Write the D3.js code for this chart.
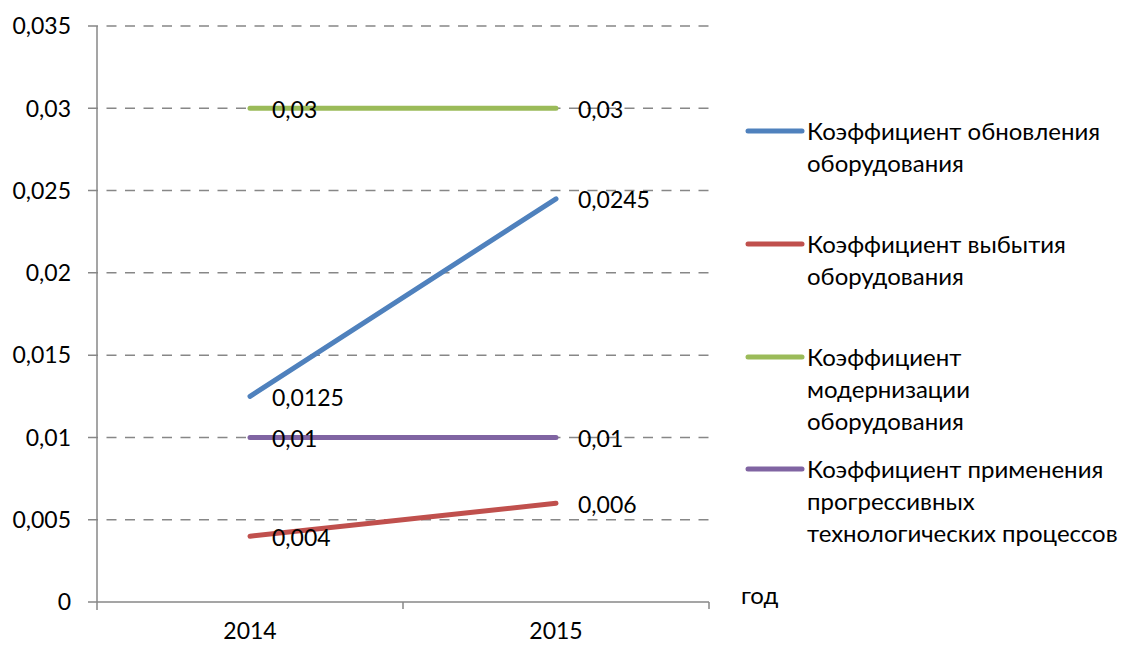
<!DOCTYPE html>
<html>
<head>
<meta charset="utf-8">
<script src="https://cdn.jsdelivr.net/npm/d3@7"></script>
<style>
  html, body { margin: 0; padding: 0; background: #fff; }
  svg { display: block; }
  text { font-family: Lato, "Open Sans", sans-serif; fill: #000; }
</style>
</head>
<body>
<svg id="chart" width="1123" height="645"></svg>
<script>
// Years on the category axis
const years = ["2014", "2015"];

// Series names (legend text, split into lines)
const seriesNames = [
  ["Коэффициент обновления", "оборудования"],
  ["Коэффициент выбытия", "оборудования"],
  ["Коэффициент", "модернизации", "оборудования"],
  ["Коэффициент применения", "прогрессивных", "технологических процессов"]
];

// Values per series, one per year
const renewalValues = [0.0125, 0.0245];
const disposalValues = [0.004, 0.006];
const modernizationValues = [0.03, 0.03];
const progressiveTechValues = [0.01, 0.01];

const seriesColors = ["#4F81BD", "#C0504D", "#9BBB59", "#8064A2"];

// Value axis ticks
const yTicks = [0, 0.005, 0.01, 0.015, 0.02, 0.025, 0.03, 0.035];
const xAxisTitle = "год";

const series = [renewalValues, disposalValues, modernizationValues, progressiveTechValues]
  .map((vals, i) => ({ name: seriesNames[i], color: seriesColors[i], values: vals }));

const svg = d3.select("#chart");
const numSize = 23;
const legendSize = 24;
const gridColor = "#878787";

const plot = { left: 97, right: 709, top: 26, bottom: 602 };

const y = d3.scaleLinear().domain([0, 0.035]).range([plot.bottom, plot.top]);
const xBand = d3.scaleBand().domain(years).range([plot.left, plot.right]);
const xc = d => xBand(d) + xBand.bandwidth() / 2;

const fmt = v => String(v).replace(".", ",");

// Dashed horizontal gridlines (skip the baseline, drawn as the axis)
svg.append("g")
  .selectAll("line")
  .data(yTicks.filter(t => t > 0))
  .join("line")
  .attr("x1", plot.left - 9)
  .attr("x2", plot.right)
  .attr("y1", d => y(d))
  .attr("y2", d => y(d))
  .attr("stroke", gridColor)
  .attr("stroke-width", 1.5)
  .attr("stroke-dasharray", "10,8.5");

// Value axis
const yAxis = svg.append("g");
yAxis.append("line")
  .attr("x1", plot.left).attr("x2", plot.left)
  .attr("y1", plot.top).attr("y2", plot.bottom + 8)
  .attr("stroke", gridColor).attr("stroke-width", 1.5);
yAxis.append("line")
  .attr("x1", plot.left - 9).attr("x2", plot.left)
  .attr("y1", y(0)).attr("y2", y(0))
  .attr("stroke", gridColor).attr("stroke-width", 1.5);
yAxis.selectAll("text")
  .data(yTicks)
  .join("text")
  .attr("x", 71)
  .attr("y", d => y(d))
  .attr("dy", "0.36em")
  .attr("text-anchor", "end")
  .attr("font-size", numSize)
  .text(d => d === 0 ? "0" : fmt(d));

// Category axis
const xAxis = svg.append("g");
xAxis.append("line")
  .attr("x1", plot.left).attr("x2", plot.right)
  .attr("y1", plot.bottom).attr("y2", plot.bottom)
  .attr("stroke", gridColor).attr("stroke-width", 1.5);
const tickPos = years.map(d => xBand(d)).concat([plot.right]);
xAxis.selectAll("line.tick")
  .data(tickPos.slice(1))
  .join("line")
  .attr("class", "tick")
  .attr("x1", d => d).attr("x2", d => d)
  .attr("y1", plot.bottom).attr("y2", plot.bottom + 7)
  .attr("stroke", gridColor).attr("stroke-width", 1.5);
xAxis.selectAll("text")
  .data(years)
  .join("text")
  .attr("x", d => xc(d))
  .attr("y", 631)
  .attr("dy", "0.36em")
  .attr("text-anchor", "middle")
  .attr("font-size", numSize)
  .text(d => d);

svg.append("text")
  .attr("x", 741)
  .attr("y", 595)
  .attr("dy", "0.36em")
  .attr("font-size", legendSize)
  .text(xAxisTitle);

// Series lines
const line = d3.line().x((v, i) => xc(years[i])).y(v => y(v));
svg.append("g")
  .selectAll("path")
  .data(series)
  .join("path")
  .attr("d", s => line(s.values))
  .attr("fill", "none")
  .attr("stroke", s => s.color)
  .attr("stroke-width", 5)
  .attr("stroke-linecap", "round");

// Value labels to the right of each point
const labels = svg.append("g");
series.forEach(s => {
  labels.selectAll(null)
    .data(s.values)
    .join("text")
    .attr("x", (v, i) => xc(years[i]) + 22)
    .attr("y", v => y(v))
    .attr("dy", "0.42em")
    .attr("font-size", numSize)
    .text(v => fmt(v));
});

// Legend
const legendTop = [131, 244, 357, 469];
const lineHeight = 32;
const legend = svg.append("g");
series.forEach((s, i) => {
  const g = legend.append("g").attr("transform", `translate(0,${legendTop[i]})`);
  g.append("line")
    .attr("x1", 748).attr("x2", 802)
    .attr("y1", 0).attr("y2", 0)
    .attr("stroke", s.color)
    .attr("stroke-width", 5)
    .attr("stroke-linecap", "round");
  g.selectAll("text")
    .data(s.name)
    .join("text")
    .attr("x", 807)
    .attr("y", (d, k) => k * lineHeight)
    .attr("dy", "0.36em")
    .attr("font-size", legendSize)
    .text(d => d);
});
</script>
</body>
</html>
